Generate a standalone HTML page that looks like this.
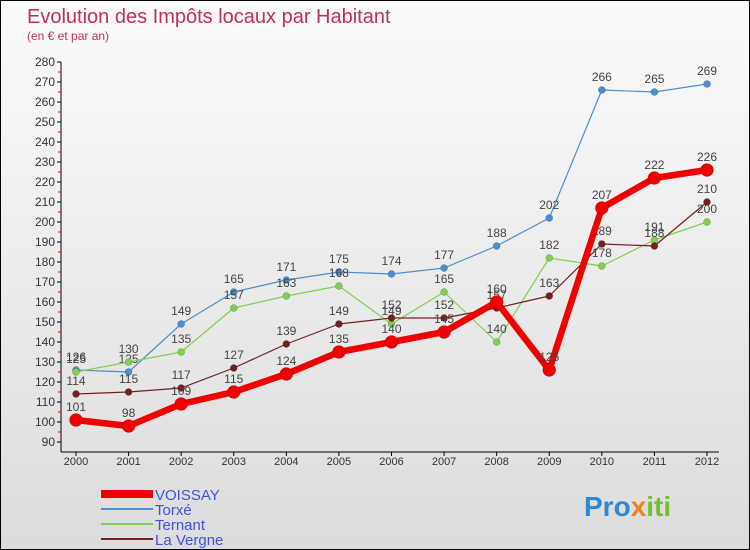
<!DOCTYPE html>
<html><head><meta charset="utf-8"><style>
body{margin:0}
#c{width:748px;height:548px;border:1px solid #000;position:relative;background:linear-gradient(#fbfbfb,#dcdcdc);font-family:"Liberation Sans","DejaVu Sans",sans-serif;overflow:hidden}
svg{position:absolute;left:0;top:0}
</style></head><body>
<div id="c">
<svg id="s" width="750" height="550">
<text x="26" y="22" font-size="20" fill="#c0305a">Evolution des Impôts locaux par Habitant</text>
<text x="26" y="39" font-size="12" fill="#c0305a">(en € et par an)</text>
<text x="583" y="515" font-size="28" font-weight="bold" fill="#2a8ad8">Pro<tspan fill="#f08020">x</tspan><tspan fill="#70c030">iti</tspan></text>
</svg>
</div>
<script>
const years=[2000,2001,2002,2003,2004,2005,2006,2007,2008,2009,2010,2011,2012];
const voissay=[101,98,109,115,124,135,140,145,160,126,207,222,226];
const torxe=[126,125,149,165,171,175,174,177,188,202,266,265,269];
const ternant=[125,130,135,157,163,168,149,165,140,182,178,191,200];
const laVergne=[114,115,117,127,139,149,152,152,157,163,189,188,210];
const yTicks=[90,100,110,120,130,140,150,160,170,180,190,200,210,220,230,240,250,260,270,280];
const s=document.getElementById('s');
const NS='http://www.w3.org/2000/svg';
const X=i=>75+i*(706-75)/(years.length-1);
const Y=v=>441-(v-90)*2;
function mk(t,a,p){const e=document.createElementNS(NS,t);for(const k in a)e.setAttribute(k,a[k]);(p||s).appendChild(e);return e;}
let ax=mk('line',{x1:60,y1:61,x2:60,y2:451,stroke:'#000'});


let bx=mk('line',{x1:60,y1:451,x2:718,y2:451,stroke:'#000'});


yTicks.forEach(v=>{
 mk('line',{x1:56,y1:Y(v),x2:60,y2:Y(v),stroke:'#000'});
 if(v<280)mk('line',{x1:57,y1:Y(v+5),x2:60,y2:Y(v+5),stroke:'#e00'});
 const t=mk('text',{x:54,y:Y(v)+4,'font-size':12,'text-anchor':'end',fill:'#333'});t.textContent=v;
 
 
});
years.forEach((y,i)=>{
 mk('line',{x1:X(i),y1:451,x2:X(i),y2:455,stroke:'#000'});
 const t=mk('text',{x:X(i),y:464,'font-size':11,'text-anchor':'middle',fill:'#333'});t.textContent=y;
 
 
});
const series=[[torxe,'#4a8fd0',1.2,3.5,'torxe'],[ternant,'#80d050',1.2,3.5,'ternant'],[laVergne,'#702020',1.2,3.5,'la-vergne'],[voissay,'#f00000',6.5,6.5,'voissay']];
series.forEach(([d,c,w,r,n])=>{
 const g=mk('g',{});
 
 
 mk('polyline',{points:d.map((v,i)=>X(i)+','+Y(v)).join(' '),fill:'none',stroke:c,'stroke-width':w,'stroke-linejoin':'round'},g);
 d.forEach((v,i)=>{
  const p=mk('circle',{cx:X(i),cy:Y(v),r:r,fill:c,stroke:'rgba(0,0,0,0.3)','stroke-width':0.5},g);
  
  
  const t=mk('text',{x:X(i),y:Y(v)-9,'font-size':12,'text-anchor':'middle',fill:'#444'},g);t.textContent=v;
 });
});
const leg=[['VOISSAY','#f00000',8],['Torxé','#4a8fd0',2],['Ternant','#80d050',2],['La Vergne','#702020',2]];
leg.forEach(([n,c,w],i)=>{
 const y=493+i*15;
 const g=mk('g',{});
 
 
 mk('line',{x1:100,y1:y,x2:152,y2:y,stroke:c,'stroke-width':w},g);
 const t=mk('text',{x:154,y:y+6,'font-size':15,fill:'#4050e0'},g);t.textContent=n;
});
</script>
</body></html>
